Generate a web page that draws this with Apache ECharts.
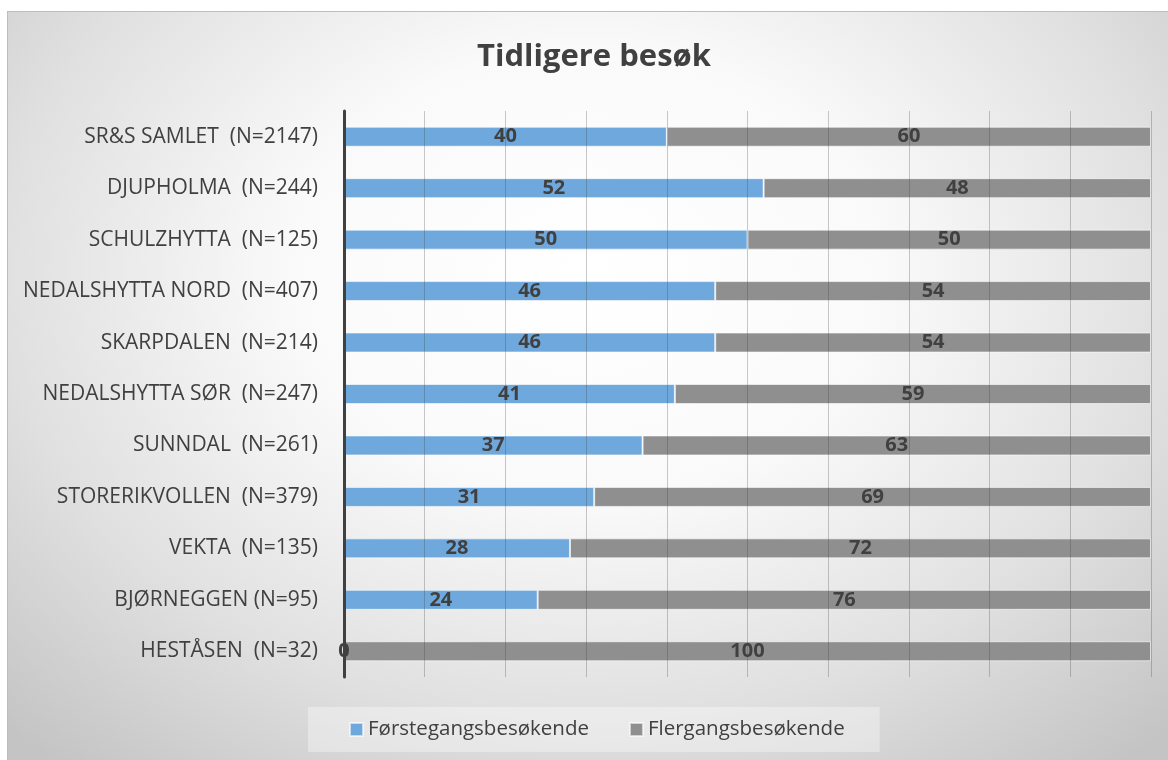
<!DOCTYPE html>
<html>
<head>
<meta charset="utf-8">
<script src="https://cdn.jsdelivr.net/npm/echarts@6/dist/echarts.min.js"></script>
<style>
  html, body { margin: 0; padding: 0; background: #ffffff; }
  #frame {
    position: absolute; left: 7px; top: 11px; width: 1161px; height: 749px;
    border-left: 1px solid #bdbdbd; border-top: 1px solid #bdbdbd;
    box-sizing: border-box;
    background: radial-gradient(ellipse 72% 85% at 50% 35%, #ffffff 0%, #fafafa 35%, #e0e0e0 70%, #c4c4c4 100%);
  }
  #chart { position: absolute; left: 0; top: 0; width: 1161px; height: 749px; }
</style>
</head>
<body>
<div id="frame"><div id="chart"></div></div>
<script>
// Categories, top to bottom
const categories = [
  "SR&S SAMLET  (N=2147)",
  "DJUPHOLMA  (N=244)",
  "SCHULZHYTTA  (N=125)",
  "NEDALSHYTTA NORD  (N=407)",
  "SKARPDALEN  (N=214)",
  "NEDALSHYTTA SØR  (N=247)",
  "SUNNDAL  (N=261)",
  "STORERIKVOLLEN  (N=379)",
  "VEKTA  (N=135)",
  "BJØRNEGGEN (N=95)",
  "HESTÅSEN  (N=32)"
];
// Percent of visitors
const firstTime = [40, 52, 50, 46, 46, 41, 37, 31, 28, 24, 0];
const returning = [60, 48, 50, 54, 54, 59, 63, 69, 72, 76, 100];

const seriesNames = ["Førstegangsbesøkende", "Flergangsbesøkende"];
const FONT = "'Open Sans', sans-serif";
const TEXT = "#404040";

const chart = echarts.init(document.getElementById("chart"), null, { renderer: "canvas" });

const labelStyle = {
  show: true,
  position: "inside",
  color: TEXT,
  fontFamily: FONT,
  fontWeight: "bold",
  fontSize: 20
};

chart.setOption({
  backgroundColor: "transparent",
  animation: false,
  title: {
    text: "Tidligere besøk",
    left: 464,
    top: 25,
    textStyle: { fontFamily: FONT, fontWeight: "bold", fontSize: 31, color: TEXT }
  },
  legend: {
    data: seriesNames,
    left: 300,
    top: 695,
    padding: [12, 35, 12, 41],
    backgroundColor: "rgba(255,255,255,0.35)",
    itemWidth: 13,
    itemHeight: 13,
    itemGap: 40,
    icon: "rect",
    textStyle: { fontFamily: FONT, fontSize: 20.5, color: TEXT }
  },
  grid: { left: 336, right: 18, top: 99, bottom: 84, containLabel: false },
  xAxis: {
    type: "value",
    min: 0,
    max: 100,
    interval: 10,
    z: 3,
    axisLine: { show: false },
    axisTick: { show: false },
    axisLabel: { show: false },
    splitLine: { show: true, lineStyle: { color: "rgba(60,60,60,0.28)", width: 1 } }
  },
  yAxis: {
    type: "category",
    data: categories,
    inverse: true,
    z: 4,
    axisLine: { show: true, lineStyle: { color: "#404040", width: 3 } },
    axisTick: { show: false },
    axisLabel: { color: TEXT, fontFamily: FONT, fontSize: 21, margin: 26 }
  },
  series: [
    {
      name: seriesNames[0],
      type: "bar",
      stack: "total",
      barWidth: 20,
      data: firstTime,
      itemStyle: { color: "#6fa8dc", borderColor: "rgba(255,255,255,0.6)", borderWidth: 1 },
      label: labelStyle,
      z: 2
    },
    {
      name: seriesNames[1],
      type: "bar",
      stack: "total",
      barWidth: 20,
      data: returning,
      itemStyle: { color: "#8f8f8f", borderColor: "rgba(255,255,255,0.6)", borderWidth: 1 },
      label: labelStyle,
      z: 2
    }
  ]
});
</script>
</body>
</html>
